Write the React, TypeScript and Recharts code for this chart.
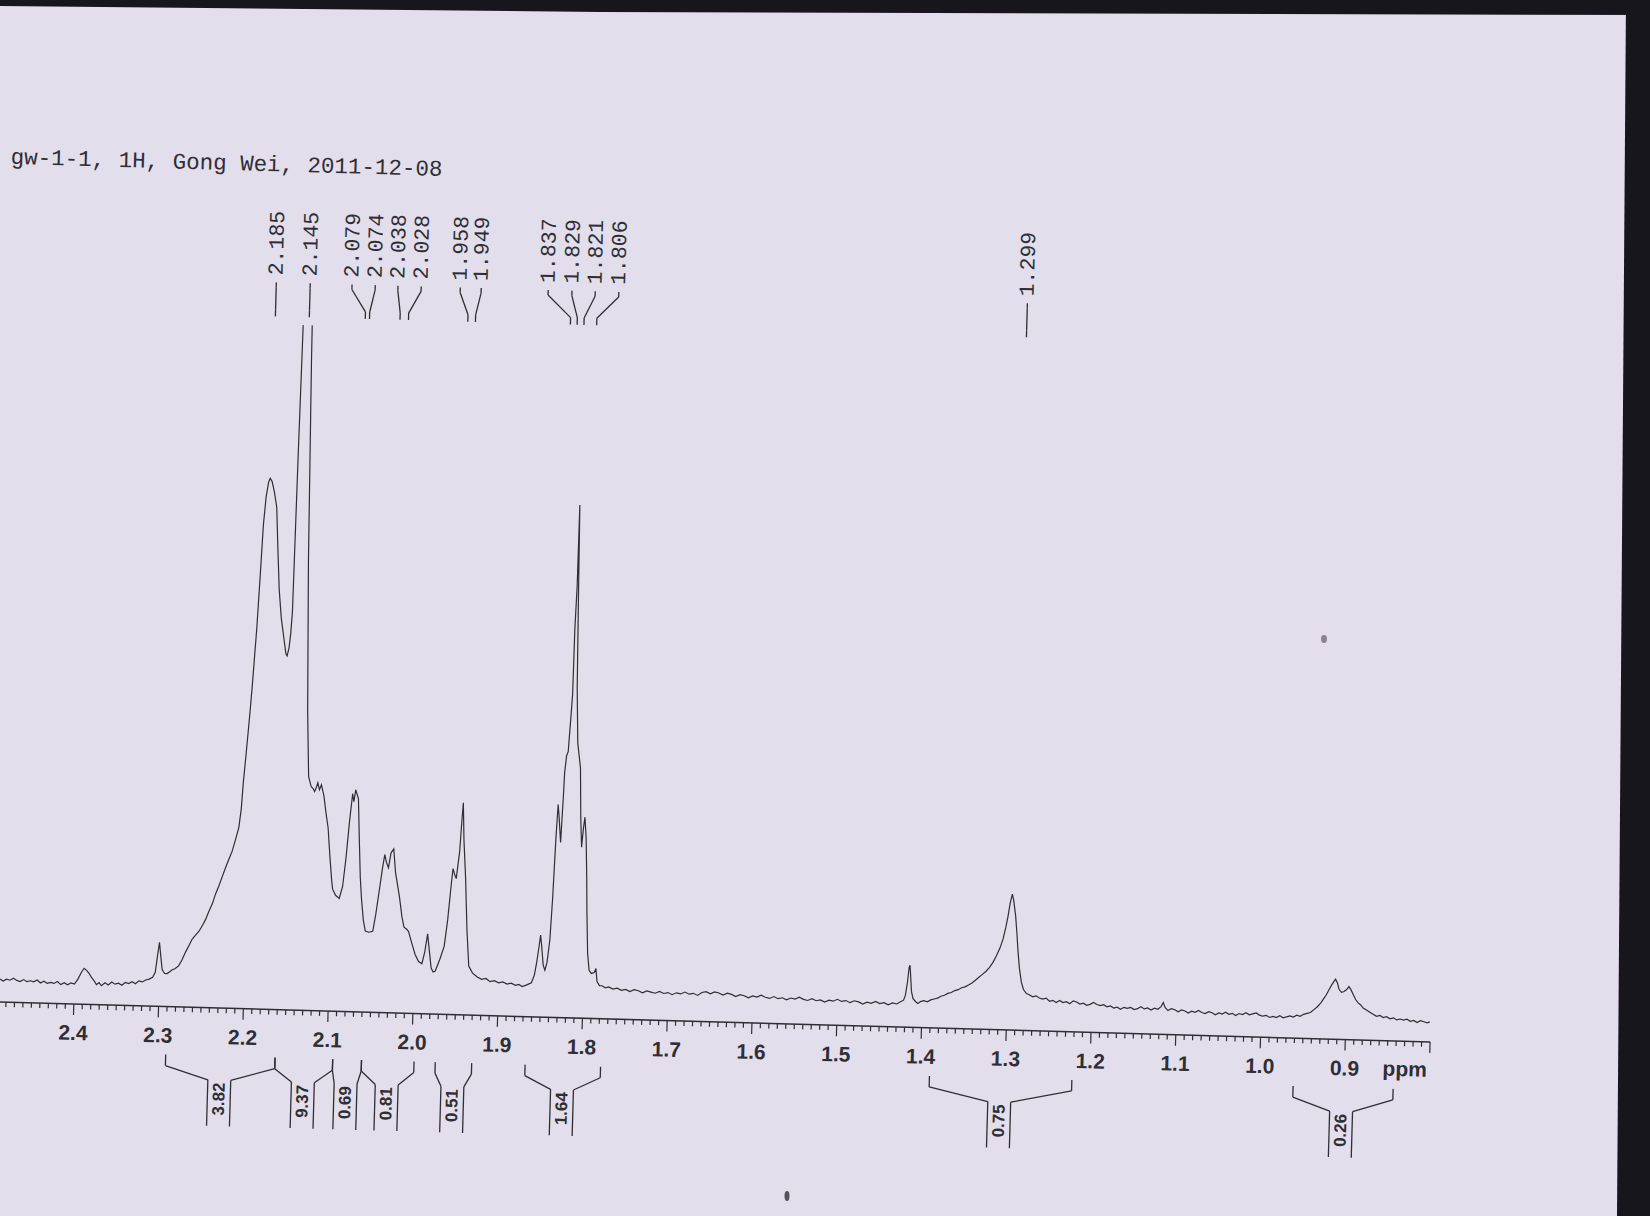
import React from "react";
import { LineChart, Line, XAxis, YAxis, ReferenceLine, ReferenceDot } from "recharts";

// trace: [shift in ppm, height above the axis line]
const leftBaseline: [number, number][] = [
  [2.488, 23], [2.484, 21], [2.48, 23], [2.476, 22], [2.472, 24], [2.468, 22], [2.464, 21], [2.46, 23],
  [2.456, 21], [2.452, 22], [2.448, 21], [2.444, 23], [2.44, 20], [2.436, 22], [2.432, 20], [2.428, 21],
  [2.424, 20], [2.42, 22], [2.416, 19], [2.412, 21], [2.408, 19], [2.404, 21], [2.4, 20], [2.396, 25],
  [2.392, 32], [2.389, 36], [2.386, 34], [2.383, 31], [2.38, 27], [2.377, 24], [2.374, 20], [2.371, 22],
  [2.368, 19], [2.364, 22], [2.36, 20], [2.356, 23], [2.352, 21], [2.348, 22], [2.344, 20], [2.34, 23],
  [2.336, 22], [2.332, 24], [2.328, 22], [2.324, 25], [2.32, 24], [2.316, 26], [2.312, 27], [2.308, 29],
  [2.305, 34],
];

const mainCluster: [number, number][] = [
  [2.303, 50], [2.301, 64], [2.299, 50], [2.297, 37], [2.294, 33], [2.291, 33], [2.288, 35], [2.285, 37],
  [2.282, 38], [2.2777, 41], [2.274, 47], [2.27, 55], [2.266, 62], [2.2627, 68], [2.259, 72], [2.255, 76],
  [2.251, 82], [2.2475, 88], [2.244, 96], [2.24, 104], [2.2365, 114], [2.2329, 122], [2.229, 132],
  [2.225, 142], [2.2215, 150], [2.2184, 157], [2.215, 168], [2.2113, 181], [2.209, 200], [2.2074, 227],
  [2.2055, 250], [2.2037, 273], [2.2018, 298], [2.2001, 323], [2.1985, 350], [2.1967, 380], [2.1945, 430],
  [2.1923, 484], [2.19, 512], [2.1875, 527], [2.1858, 531], [2.1835, 528], [2.1805, 518], [2.1771, 502],
  [2.1745, 462], [2.1715, 420], [2.1682, 392], [2.1645, 372], [2.1615, 356], [2.16, 354], [2.158, 362],
  [2.1565, 376], [2.1552, 398], [2.1535, 560], [2.151, 760], [2.148, 1000], [2.1455, 1100], [2.143, 900],
  [2.141, 650], [2.138, 450], [2.134, 300], [2.1307, 234], [2.1274, 224], [2.125, 222], [2.1231, 219],
  [2.121, 224], [2.1196, 228], [2.1175, 221], [2.1153, 226], [2.112, 215], [2.109, 198], [2.106, 183],
  [2.103, 155], [2.1, 130], [2.0987, 122], [2.095, 116], [2.0906, 113], [2.087, 125], [2.084, 153],
  [2.081, 190], [2.0782, 218], [2.0765, 210], [2.0747, 222], [2.0712, 213], [2.069, 175], [2.0665, 135],
  [2.0643, 113], [2.0615, 92], [2.0588, 81], [2.0545, 80], [2.05, 81], [2.047, 98], [2.0435, 123],
  [2.0405, 145], [2.0383, 158], [2.036, 150], [2.0336, 145], [2.031, 160], [2.0279, 164], [2.025, 140],
  [2.0196, 116], [2.016, 96], [2.0133, 86], [2.01, 84], [2.0079, 82], [2.0035, 70], [1.9993, 59],
  [1.995, 52], [1.991, 50], [1.988, 62], [1.9852, 80], [1.9825, 62], [1.98, 46], [1.9775, 42], [1.975, 43],
  [1.97, 55], [1.9653, 68], [1.962, 95], [1.959, 130], [1.9574, 146], [1.9553, 140], [1.9533, 136],
  [1.9501, 164], [1.9485, 195], [1.9474, 212], [1.9455, 175], [1.9423, 137], [1.939, 85], [1.9357, 49],
  [1.931, 42], [1.9249, 38],
];

const midBaseline: [number, number][] = [
  [1.92, 36], [1.915, 37], [1.91, 34], [1.905, 35], [1.9, 33], [1.895, 34], [1.89, 32], [1.885, 33],
  [1.88, 31], [1.876, 32], [1.872, 30], [1.869, 31],
];

const multiplet: [number, number][] = [
  [1.866, 32], [1.8613, 34], [1.858, 42], [1.8558, 54], [1.8535, 70], [1.852, 82], [1.8505, 72],
  [1.848, 52], [1.8458, 47], [1.8435, 55], [1.8409, 78], [1.839, 120], [1.8371, 180], [1.8356, 213],
  [1.834, 200], [1.8315, 175], [1.8298, 219], [1.829, 245], [1.8273, 262], [1.8255, 266], [1.8235, 300],
  [1.8222, 323], [1.8217, 389], [1.8204, 432], [1.8199, 513], [1.8185, 420], [1.817, 330], [1.8145, 275],
  [1.8129, 265], [1.8105, 250], [1.8085, 200], [1.8066, 171], [1.805, 190], [1.8036, 201], [1.8015, 180],
  [1.7995, 140], [1.7981, 105], [1.796, 65], [1.7937, 48], [1.791, 45], [1.7875, 46], [1.7857, 50],
  [1.784, 37], [1.781, 33],
];

const rightBaseline: [number, number][] = [
  [1.778, 33], [1.774, 31], [1.77, 32], [1.765, 30], [1.76, 31], [1.755, 29], [1.75, 30], [1.745, 28],
  [1.74, 30], [1.735, 29], [1.73, 27], [1.725, 29], [1.72, 28], [1.715, 27], [1.71, 29], [1.705, 27],
  [1.7, 28], [1.695, 26], [1.69, 28], [1.685, 27], [1.68, 29], [1.675, 27], [1.67, 28], [1.665, 26],
  [1.66, 29], [1.655, 30], [1.65, 28], [1.645, 30], [1.64, 29], [1.635, 27], [1.63, 29], [1.625, 28],
  [1.62, 26], [1.615, 28], [1.61, 27], [1.605, 25], [1.6, 27], [1.595, 26], [1.59, 28], [1.585, 26],
  [1.58, 25], [1.575, 27], [1.57, 25], [1.565, 26], [1.56, 24], [1.555, 26], [1.55, 25], [1.545, 27],
  [1.54, 25], [1.535, 24], [1.53, 26], [1.525, 24], [1.52, 25], [1.515, 23], [1.51, 25], [1.505, 24],
  [1.5, 26], [1.495, 24], [1.49, 25], [1.485, 23], [1.48, 25], [1.475, 24], [1.47, 22], [1.465, 24],
  [1.46, 23], [1.455, 25], [1.45, 23], [1.445, 24], [1.44, 22], [1.435, 24], [1.43, 23], [1.426, 25],
];

const midPeaks: [number, number][] = [
  [1.422, 27], [1.42, 32], [1.418, 45], [1.4165, 60], [1.4155, 62], [1.4145, 52], [1.413, 36], [1.411, 29],
  [1.408, 26], [1.405, 24], [1.402, 26], [1.398, 27], [1.394, 26], [1.39, 28], [1.386, 29], [1.382, 30],
  [1.378, 32], [1.374, 33], [1.37, 35], [1.366, 36], [1.362, 38], [1.358, 39], [1.354, 41], [1.35, 42],
  [1.346, 44], [1.342, 46], [1.338, 49], [1.334, 52], [1.33, 55], [1.326, 58], [1.322, 62], [1.318, 67],
  [1.314, 74], [1.31, 82], [1.3067, 91], [1.304, 102], [1.3016, 114], [1.2995, 127], [1.2972, 136],
  [1.2955, 130], [1.2926, 114], [1.2905, 96], [1.2888, 80], [1.2865, 62], [1.2837, 48], [1.281, 41],
  [1.2774, 37], [1.274, 36], [1.27, 34], [1.266, 35], [1.262, 33], [1.258, 32], [1.254, 33], [1.25, 30],
  [1.246, 31], [1.242, 29],
];

const tail: [number, number][] = [
  [1.238, 31], [1.234, 29], [1.23, 30], [1.226, 28], [1.222, 31], [1.218, 30], [1.214, 28], [1.21, 29],
  [1.206, 27], [1.202, 28], [1.198, 30], [1.194, 28], [1.19, 27], [1.186, 28], [1.182, 26], [1.178, 27],
  [1.174, 25], [1.17, 26], [1.166, 24], [1.162, 26], [1.158, 25], [1.154, 26], [1.15, 24], [1.146, 25],
  [1.142, 27], [1.138, 25], [1.134, 26], [1.13, 24], [1.126, 26], [1.122, 25], [1.118, 28], [1.1158, 32],
  [1.1135, 27], [1.11, 24], [1.106, 26], [1.102, 25], [1.098, 23], [1.094, 25], [1.09, 24], [1.086, 22],
  [1.082, 24], [1.078, 23], [1.074, 25], [1.07, 23], [1.066, 22], [1.062, 24], [1.058, 23], [1.054, 21],
  [1.05, 23], [1.046, 22], [1.042, 24], [1.038, 22], [1.034, 23], [1.03, 21], [1.026, 23], [1.022, 22],
  [1.018, 24], [1.014, 22], [1.01, 23], [1.006, 24], [1.002, 22], [0.998, 21], [0.994, 22], [0.99, 20],
  [0.986, 21], [0.982, 20], [0.978, 22], [0.974, 20], [0.97, 21], [0.966, 22], [0.962, 21], [0.958, 23],
  [0.954, 22], [0.95, 24], [0.946, 25], [0.942, 26], [0.938, 29], [0.934, 32], [0.93, 36], [0.927, 40],
  [0.924, 44], [0.921, 49], [0.918, 54], [0.915, 58], [0.9134, 60], [0.911, 56], [0.909, 50], [0.906, 47],
  [0.903, 48], [0.9, 50], [0.8975, 53], [0.895, 50], [0.892, 45], [0.889, 40], [0.886, 37], [0.883, 35],
  [0.88, 32], [0.876, 30], [0.872, 28], [0.868, 26], [0.864, 24], [0.86, 25], [0.856, 23], [0.852, 24],
  [0.848, 22], [0.844, 23], [0.84, 21], [0.836, 22], [0.832, 21], [0.828, 22], [0.824, 20], [0.82, 21],
  [0.816, 19], [0.812, 21], [0.808, 20], [0.804, 19], [0.801, 20],
];

const spectrum = [
  ...leftBaseline, ...mainCluster, ...midBaseline, ...multiplet, ...rightBaseline, ...midPeaks, ...tail,
].map(([ppm, h]) => ({ ppm, h }));

// axis
const majorTicks = [2.5, 2.4, 2.3, 2.2, 2.1, 2.0, 1.9, 1.8, 1.7, 1.6, 1.5, 1.4, 1.3, 1.2, 1.1, 1.0, 0.9, 0.8];
const axisTicks: number[] = [];
for (let i = 250; i >= 80; i--) axisTicks.push(i / 100);

// peak picking
const peakShifts = [2.185, 2.145, 2.079, 2.074, 2.038, 2.028, 1.958, 1.949, 1.837, 1.829, 1.821, 1.806, 1.299];
const labelSpots = [2.185, 2.145, 2.0957, 2.0683, 2.0415, 2.0141, 1.968, 1.9433, 1.8643, 1.8362, 1.8088, 1.781, 1.299];

// integrals
const integralValues = ["3.82", "9.37", "0.69", "0.81", "0.51", "1.64", "0.75", "0.26"];
const integralFrom = [2.29, 2.161, 2.093, 2.059, 1.972, 1.866, 1.389, 0.96];
const integralTo = [2.161, 2.093, 2.059, 1.997, 1.929, 1.777, 1.221, 0.842];
const integralMark = [2.226, 2.1274, 2.077, 2.0285, 1.951, 1.8217, 1.3059, 0.9026];

const INK = "#2f2e35";
const PAPER = "#e2deeb";

// heights (chart units) of the annotation pieces
const LABEL_BASE = 734;
const CONN_TOP = 727;
const CONN_B1 = 722;
const CONN_B2 = 700;
const CONN_BOTTOM = 693;
const INT_TOP = -48;
const INT_BEND = -59;
const INT_JOIN = -72;
const INT_BOTTOM = -118;
const INT_TEXT = -91;
const BOX_HALF = 0.0135;

const seg = (key: string, x1: number, y1: number, x2: number, y2: number) => (
  <ReferenceLine
    key={key}
    segment={[{ x: x1, y: y1 }, { x: x2, y: y2 }]}
    stroke={INK}
    strokeWidth={1.3}
    ifOverflow="visible"
  />
);

const AxisTick = (props: any) => {
  const { x, y, payload } = props;
  const v = payload.value;
  const major = Math.round(v * 100) % 10 === 0;
  const showLabel = major && v < 2.45 && v > 0.85;
  return (
    <g>
      <line x1={x} y1={y} x2={x} y2={y + (major ? 11 : 5)} stroke={INK} strokeWidth={1.2} />
      {showLabel && (
        <text
          x={x}
          y={y + 36}
          textAnchor="middle"
          fontFamily='"Liberation Sans", Arial, sans-serif'
          fontWeight="bold"
          fontSize={21}
          fill={INK}
        >
          {v.toFixed(1)}
        </text>
      )}
    </g>
  );
};

const App: React.FC = () => {
  return (
    <div
      style={{
        position: "absolute",
        left: 0,
        top: 0,
        width: 1650,
        height: 1216,
        overflow: "hidden",
        background: PAPER,
      }}
    >
      {/* the scanned sheet is a little rotated */}
      <div
        style={{
          position: "absolute",
          left: -31.1,
          top: 118.8,
          width: 1500,
          height: 1110,
          transformOrigin: "104.8px 885px",
          transform: "rotate(1.6deg)",
        }}
      >
        <LineChart
          width={1500}
          height={1110}
          data={spectrum}
          margin={{ top: 200, right: 38.4, bottom: 195, left: 20 }}
        >
          <XAxis
            dataKey="ppm"
            type="number"
            domain={[0.8, 2.5]}
            reversed
            allowDataOverflow
            ticks={axisTicks}
            interval={0}
            tick={(p: any) => <AxisTick {...p} />}
            tickLine={false}
            tickSize={0}
            tickMargin={0}
            axisLine={{ stroke: INK, strokeWidth: 1.5 }}
            height={30}
          />
          <YAxis hide type="number" domain={[0, 685]} allowDataOverflow />
          <Line
            dataKey="h"
            type="linear"
            stroke={INK}
            strokeWidth={1.2}
            dot={false}
            isAnimationActive={false}
          />

          {peakShifts.map((pk, i) => [
            seg(`pa${i}`, labelSpots[i], CONN_TOP, labelSpots[i], CONN_B1),
            seg(`pb${i}`, labelSpots[i], CONN_B1, pk, CONN_B2),
            seg(`pc${i}`, pk, CONN_B2, pk, CONN_BOTTOM),
            <ReferenceDot
              key={`pt${i}`}
              x={labelSpots[i]}
              y={LABEL_BASE}
              r={0}
              ifOverflow="visible"
              shape={(p: any) => (
                <text
                  x={p.cx}
                  y={p.cy}
                  transform={`rotate(-90 ${p.cx} ${p.cy})`}
                  dominantBaseline="central"
                  fontFamily='"Liberation Mono", "DejaVu Sans Mono", monospace'
                  fontSize={21.5}
                  fill={INK}
                >
                  {pk.toFixed(3)}
                </text>
              )}
            />,
          ])}

          {integralValues.map((val, i) => {
            const l = integralFrom[i];
            const r = integralTo[i];
            const bl = integralMark[i] + BOX_HALF;
            const br = integralMark[i] - BOX_HALF;
            return [
              seg(`ia${i}`, l, INT_TOP, l, INT_BEND),
              seg(`ib${i}`, l, INT_BEND, bl, INT_JOIN),
              seg(`ic${i}`, bl, INT_JOIN, bl, INT_BOTTOM),
              seg(`id${i}`, br, INT_BOTTOM, br, INT_JOIN),
              seg(`ie${i}`, br, INT_JOIN, r, INT_BEND),
              seg(`if${i}`, r, INT_BEND, r, INT_TOP),
              <ReferenceDot
                key={`it${i}`}
                x={integralMark[i]}
                y={INT_TEXT}
                r={0}
                ifOverflow="visible"
                shape={(p: any) => (
                  <text
                    x={p.cx}
                    y={p.cy}
                    transform={`rotate(-90 ${p.cx} ${p.cy})`}
                    textAnchor="middle"
                    dominantBaseline="central"
                    fontFamily='"Liberation Sans", Arial, sans-serif'
                    fontWeight="bold"
                    fontSize={17}
                    fill={INK}
                  >
                    {val}
                  </text>
                )}
              />,
            ];
          })}

          <ReferenceDot
            x={0.829}
            y={-35}
            r={0}
            ifOverflow="visible"
            shape={(p: any) => (
              <text
                x={p.cx}
                y={p.cy}
                textAnchor="middle"
                fontFamily='"Liberation Sans", Arial, sans-serif'
                fontWeight="bold"
                fontSize={21}
                fill={INK}
              >
                ppm
              </text>
            )}
          />
        </LineChart>
        <svg
          width={900}
          height={80}
          style={{ position: "absolute", left: 0, top: 0, pointerEvents: "none" }}
        >
          <text
            x={18}
            y={47}
            fontFamily='"Liberation Mono", "DejaVu Sans Mono", monospace'
            fontSize={22.5}
            fill={INK}
          >
            gw-1-1, 1H, Gong Wei, 2011-12-08
          </text>
        </svg>
      </div>

      {/* dark scanner edges */}
      <svg
        width={1650}
        height={1216}
        style={{ position: "absolute", left: 0, top: 0, pointerEvents: "none" }}
      >
        <polygon points="0,0 1650,0 1650,15 600,12 0,6" fill="#17161d" />
        <polygon points="1626,0 1650,0 1650,1216 1617,1216" fill="#17161d" />
        <ellipse cx={1324} cy={639} rx={3} ry={4} fill="#8a8690" />
        <ellipse cx={787} cy={1196} rx={2.5} ry={5} fill="#55525c" />
      </svg>
    </div>
  );
};

export default App;
